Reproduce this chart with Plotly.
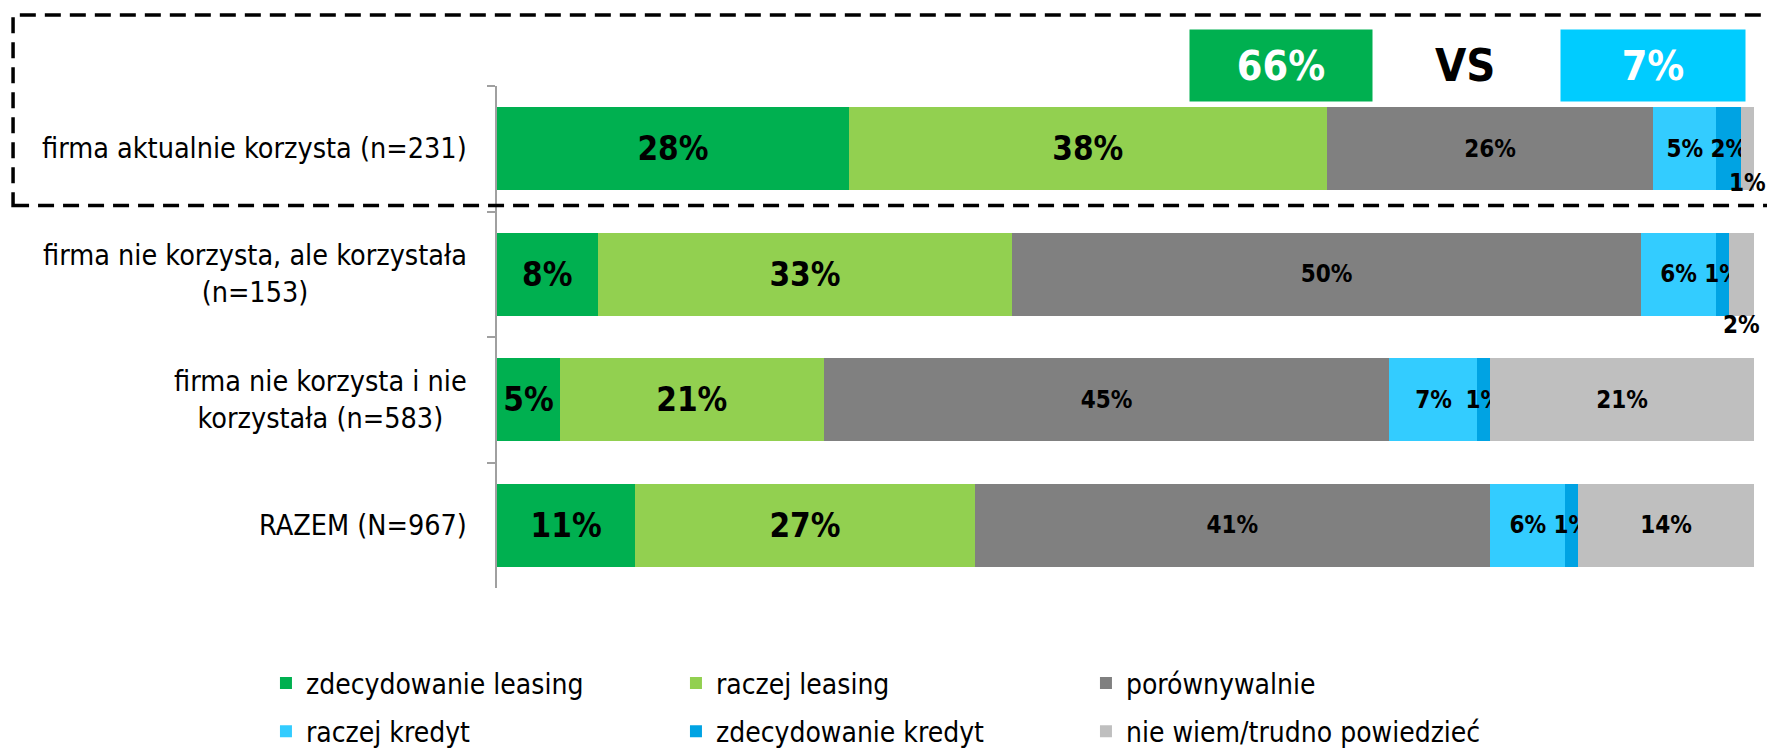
import plotly.graph_objects as go

# ---- data ----
categories = [
    "firma aktualnie korzysta (n=231)",
    "firma nie korzysta, ale korzystała<br>(n=153)",
    "firma nie korzysta i nie<br>korzystała (n=583)",
    "RAZEM (N=967)",
]
series_names = [
    "zdecydowanie leasing",
    "raczej leasing",
    "porównywalnie",
    "raczej kredyt",
    "zdecydowanie kredyt",
    "nie wiem/trudno powiedzieć",
]
zdecydowanie_leasing = [28, 8, 5, 11]
raczej_leasing = [38, 33, 21, 27]
porownywalnie = [26, 50, 45, 41]
raczej_kredyt = [5, 6, 7, 6]
zdecydowanie_kredyt = [2, 1, 1, 1]
nie_wiem = [1, 2, 21, 14]

series_values = [zdecydowanie_leasing, raczej_leasing, porownywalnie,
                 raczej_kredyt, zdecydowanie_kredyt, nie_wiem]

# ---- styling ----
colors = ["#00B050", "#92D050", "#808080", "#33CCFF", "#00A3E3", "#BFBFBF"]
FONT = "DejaVu Sans Condensed, DejaVu Sans, sans-serif"
big_label = dict(family=FONT, size=33, color="black", weight="bold")
small_label = dict(family=FONT, size=24, color="black", weight="bold")
below_shift = {0: -34, 1: -51}   # rows whose last tiny segment label sits below the bar

fig = go.Figure()
for i, (name, vals, col) in enumerate(zip(series_names, series_values, colors)):
    texts = []
    for r, v in enumerate(vals):
        if i == 5 and v < 3:
            texts.append("")
        else:
            texts.append(f"{v}%")
    fig.add_trace(go.Bar(
        y=categories, x=vals, name=name, orientation="h",
        marker=dict(color=col, line=dict(width=0)),
        text=texts, textposition="inside", insidetextanchor="middle",
        textangle=0, constraintext="none",
        textfont=big_label if i < 2 else small_label,
        legend="legend" if i < 3 else "legend2",
        hoverinfo="skip",
    ))

# labels for tiny last segments placed below the bar
for r, shift in below_shift.items():
    start = sum(s[r] for s in series_values[:5])
    fig.add_annotation(x=start + nie_wiem[r] / 2, y=categories[r], xref="x", yref="y",
                       text=f"{nie_wiem[r]}%", showarrow=False, yshift=shift,
                       font=small_label)

# category labels (right aligned block, centered lines)
for c in categories:
    fig.add_annotation(x=0, y=c, xref="paper", yref="y", xanchor="right", yanchor="middle",
                       xshift=-28, text=c, align="center", showarrow=False,
                       font=dict(family=FONT, size=28.5, color="black"))

# summary boxes for first row
lease_total = zdecydowanie_leasing[0] + raczej_leasing[0]
credit_total = raczej_kredyt[0] + zdecydowanie_kredyt[0]
fig.add_annotation(x=0.6237, y=1.0408, xref="paper", yref="paper", xanchor="center",
                   yanchor="middle", text=f"{lease_total}%", showarrow=False,
                   width=182, height=71, borderpad=0, bgcolor="#00B050",
                   font=dict(family=FONT, size=41, color="white", weight="bold"))
fig.add_annotation(x=0.7701, y=1.0408, xref="paper", yref="paper", xanchor="center",
                   yanchor="middle", text="VS", showarrow=False,
                   font=dict(family=FONT, size=45, color="black", weight="bold"))
fig.add_annotation(x=0.9197, y=1.0408, xref="paper", yref="paper", xanchor="center",
                   yanchor="middle", text=f"{credit_total}%", showarrow=False,
                   width=184, height=71, borderpad=0, bgcolor="#00CCFF",
                   font=dict(family=FONT, size=41, color="white", weight="bold"))

# dashed highlight frame around the first row
fig.add_shape(type="rect", xref="paper", yref="paper", x0=-0.385, x1=1.03,
              y0=0.762, y1=1.1414, line=dict(color="black", width=3.5, dash="16px,9px"),
              fillcolor="rgba(0,0,0,0)", layer="above")

legend_common = dict(orientation="h", xanchor="left", yanchor="middle",
                     entrywidth=365, entrywidthmode="pixels",
                     font=dict(family=FONT, size=28, color="black"),
                     bgcolor="rgba(0,0,0,0)", traceorder="normal")

fig.update_layout(
    width=1767, height=751,
    margin=dict(l=497, r=13, t=86, b=163, autoexpand=False),
    barmode="stack", bargap=0.34,
    plot_bgcolor="white", paper_bgcolor="white",
    xaxis=dict(range=[0, 100], showgrid=False, zeroline=False, showline=False,
               showticklabels=False, fixedrange=True),
    yaxis=dict(type="category", autorange="reversed", showgrid=False,
               showline=True, linecolor="#A0A0A0", linewidth=2,
               ticks="outside", tickson="boundaries", ticklen=8, tickwidth=2,
               tickcolor="#A0A0A0", showticklabels=False),
    legend=dict(x=-0.1838, y=-0.19, **legend_common),
    legend2=dict(x=-0.1838, y=-0.286, **legend_common),
    showlegend=True,
    font=dict(family=FONT),
)

fig.write_html(
    "out.html",
    config={"displayModeBar": False},
    post_script="document.body.style.margin='0';document.body.style.overflow='hidden';",
)
